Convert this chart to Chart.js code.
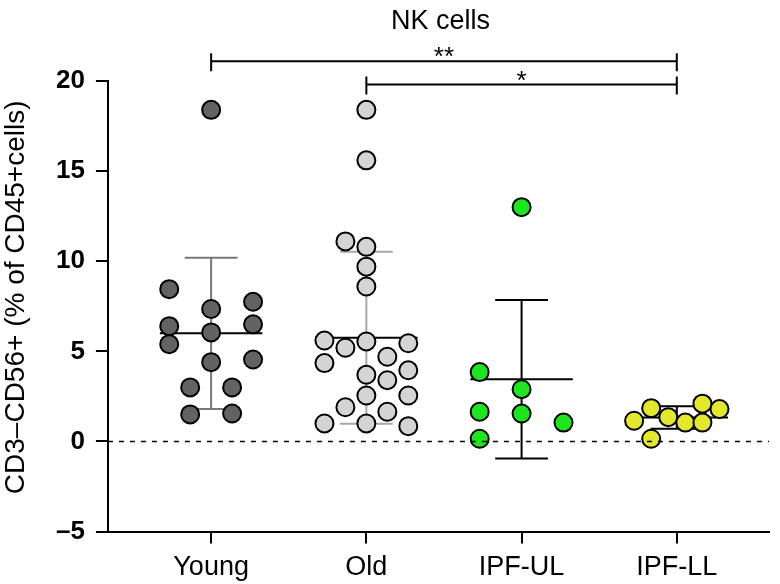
<!DOCTYPE html>
<html>
<head>
<meta charset="utf-8">
<script src="https://cdn.jsdelivr.net/npm/chart.js@4"></script>
<style>
  html, body { margin: 0; padding: 0; background: #fff; }
  #wrap { width: 780px; height: 584px; }
</style>
</head>
<body>
<div id="wrap"><canvas id="nkChart" width="780" height="584"></canvas></div>
<script>
const categories = ['Young', 'Old', 'IPF-UL', 'IPF-LL'];

// individual donors, % of CD45+ cells; jitter is the horizontal spread inside a group
const youngValues = [18.4, 8.45, 7.35, 7.75, 6.4, 6.5, 6.05, 5.4, 4.55, 4.4, 3.0, 3.0, 1.5, 1.55];
const youngJitter = [0, -0.27, 0, 0.27, -0.27, 0.27, 0, -0.27, 0.27, 0, -0.135, 0.135, -0.135, 0.135];

const oldValues = [18.4, 15.6, 11.1, 10.8, 9.7, 8.6, 5.6, 5.55, 5.45, 5.2, 4.7, 4.35, 3.7, 3.95, 3.4, 2.55, 2.55, 1.9, 1.65, 1.0, 1.0, 0.85];
const oldJitter = [0, 0, -0.135, 0, 0, 0, -0.27, 0, 0.27, -0.135, 0.135, -0.27, 0, 0.27, 0.135, 0, 0.27, -0.135, 0.135, -0.27, 0, 0.27];

const ipfUlValues = [13.0, 3.85, 2.9, 1.65, 1.55, 1.05, 0.15];
const ipfUlJitter = [0, -0.27, 0, -0.27, 0, 0.27, -0.27];

const ipfLlValues = [1.15, 1.85, 1.35, 1.05, 2.1, 1.05, 1.8, 0.15];
const ipfLlJitter = [-0.275, -0.165, -0.055, 0.055, 0.165, 0.165, 0.275, -0.165];

// mean +/- SD per group
const groupMeans = [6.0, 5.75, 3.45, 1.33];
const groupSD = [4.2, 4.77, 4.4, 0.62];

const yTicks = [-5, 0, 5, 10, 15, 20];

// significance brackets
const bracketFrom = [0, 1];
const bracketTo = [3, 3];
const bracketLevel = [21.1, 19.8];
const bracketLabels = ['**', '*'];

const fillColors = ['#636363', '#d4d4d4', '#1ee61e', '#e4e82a'];
const barColors = ['#777777', '#a8a8a8', '#000000', '#000000'];

const groups = [
    [youngValues, youngJitter],
    [oldValues, oldJitter],
    [ipfUlValues, ipfUlJitter],
    [ipfLlValues, ipfLlJitter]
];

const xMin = -0.665, xMax = 3.594;
const FONT = '"Liberation Sans", Arial, Helvetica, sans-serif';

const pointSets = groups.map(([vals, jit], i) => ({
    type: 'scatter',
    label: categories[i],
    data: vals.map((v, k) => ({ x: i + jit[k], y: v })),
    backgroundColor: fillColors[i],
    borderColor: '#000',
    borderWidth: 2,
    pointRadius: 9,
    pointHoverRadius: 9
}));

const zeroLine = {
    type: 'line',
    label: 'zero',
    data: [{ x: xMin, y: 0 }, { x: xMax, y: 0 }],
    borderColor: '#000',
    borderWidth: 1.6,
    borderDash: [5, 6],
    pointRadius: 0,
    fill: false
};

const overlay = {
    id: 'overlay',
    beforeDatasetsDraw(chart) {
        const { ctx, scales: { x, y } } = chart;
        ctx.save();
        ctx.lineWidth = 2;
        groupMeans.forEach((m, i) => {
            const cx = x.getPixelForValue(i);
            const capHalf = x.getPixelForValue(i + 0.17) - cx;
            const meanHalf = x.getPixelForValue(i + 0.33) - cx;
            const top = y.getPixelForValue(m + groupSD[i]);
            const bot = y.getPixelForValue(m - groupSD[i]);
            const my = y.getPixelForValue(m);
            ctx.strokeStyle = barColors[i];
            ctx.beginPath();
            ctx.moveTo(cx, top); ctx.lineTo(cx, bot);
            ctx.moveTo(cx - capHalf, top); ctx.lineTo(cx + capHalf, top);
            ctx.moveTo(cx - capHalf, bot); ctx.lineTo(cx + capHalf, bot);
            ctx.stroke();
            ctx.strokeStyle = '#000';
            ctx.beginPath();
            ctx.moveTo(cx - meanHalf, my); ctx.lineTo(cx + meanHalf, my);
            ctx.stroke();
        });
        ctx.restore();
    },
    afterDraw(chart) {
        const { ctx, chartArea, scales: { x, y } } = chart;
        ctx.save();
        ctx.fillStyle = '#000';
        ctx.font = '27px ' + FONT;
        ctx.textAlign = 'center';
        ctx.textBaseline = 'middle';
        ctx.fillText('NK cells', (chartArea.left + chartArea.right) / 2 + 2, 22);

        // y axis title, sits a little above the middle of the axis like the original
        ctx.save();
        ctx.translate(16, (chartArea.top + chartArea.bottom) / 2 - 9);
        ctx.rotate(-Math.PI / 2);
        ctx.font = '28px ' + FONT;
        ctx.fillText('CD3\u2013CD56+ (% of CD45+cells)', 0, 0);
        ctx.restore();

        ctx.strokeStyle = '#000';
        ctx.lineWidth = 2;
        bracketLabels.forEach((lab, i) => {
            const x1 = x.getPixelForValue(bracketFrom[i]);
            const x2 = x.getPixelForValue(bracketTo[i]);
            const ly = y.getPixelForValue(bracketLevel[i]);
            ctx.beginPath();
            ctx.moveTo(x1, ly - 8); ctx.lineTo(x1, ly + 10);
            ctx.moveTo(x2, ly - 8); ctx.lineTo(x2, ly + 10);
            ctx.moveTo(x1, ly); ctx.lineTo(x2, ly);
            ctx.stroke();
            ctx.font = '26px ' + FONT;
            ctx.textBaseline = 'alphabetic';
            ctx.fillText(lab, (x1 + x2) / 2, ly + 4);
        });
        ctx.restore();
    }
};

new Chart(document.getElementById('nkChart').getContext('2d'), {
    data: { datasets: [zeroLine, ...pointSets] },
    options: {
        responsive: false,
        animation: false,
        layout: { padding: { top: 81, left: 45, right: 0, bottom: -8 } },
        plugins: {
            legend: { display: false },
            tooltip: { enabled: false },
            title: { display: false }
        },
        scales: {
            x: {
                type: 'linear',
                min: xMin,
                max: xMax,
                afterBuildTicks: (scale) => {
                    scale.ticks = categories.map((c, i) => ({ value: i }));
                },
                ticks: {
                    callback: (v) => categories[v],
                    color: '#000',
                    font: { family: FONT, size: 27 },
                    padding: 8,
                    autoSkip: false,
                    maxRotation: 0
                },
                grid: { drawOnChartArea: false, drawTicks: true, tickLength: 12, color: '#000', lineWidth: 2 },
                border: { display: true, color: '#000', width: 2 }
            },
            y: {
                min: -5,
                max: 20,
                afterBuildTicks: (scale) => {
                    scale.ticks = yTicks.map(v => ({ value: v }));
                },
                ticks: {
                    callback: (v) => v < 0 ? '\u2013' + Math.abs(v) : String(v),
                    color: '#000',
                    font: { family: FONT, size: 26, weight: 'bold' },
                    padding: 11
                },
                grid: { drawOnChartArea: false, drawTicks: true, tickLength: 12, color: '#000', lineWidth: 2 },
                border: { display: true, color: '#000', width: 2 }
            }
        }
    },
    plugins: [overlay]
});
</script>
</body>
</html>
